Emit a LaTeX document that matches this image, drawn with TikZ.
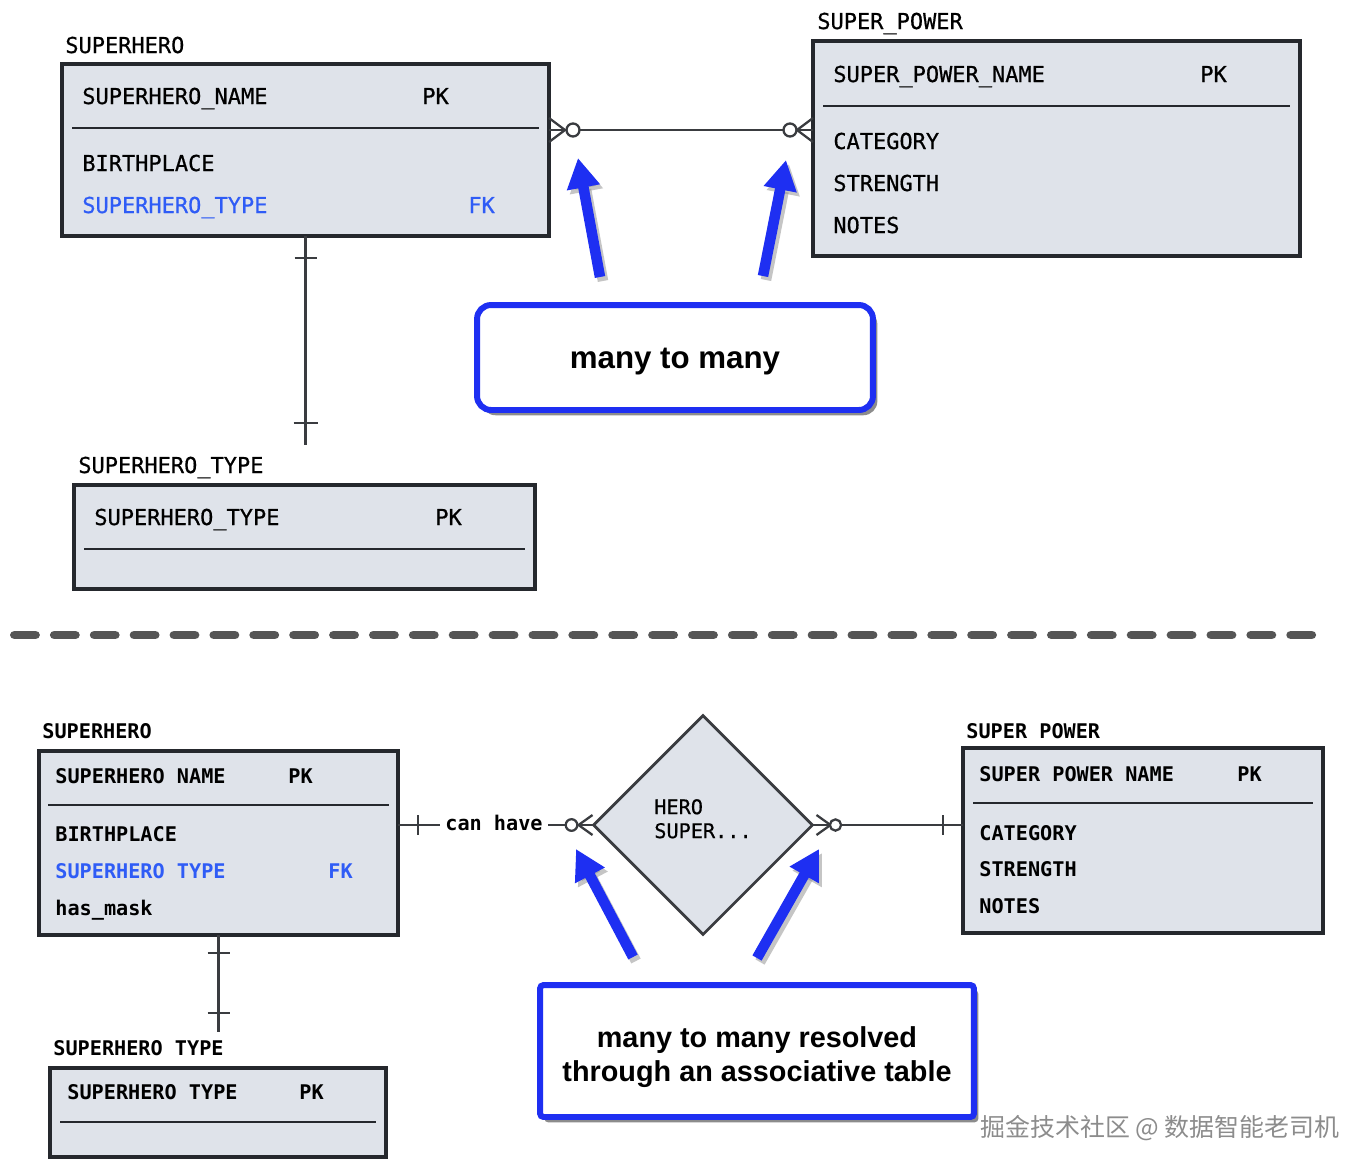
\documentclass[tikz,border=0pt]{standalone}
\usepackage{fontspec}
\setmainfont{Liberation Sans}
\setmonofont{DejaVu Sans Mono}
\newfontfamily\erdmono[FakeBold=0.6]{DejaVu Sans Mono}
\newfontfamily\cjk{Noto Sans CJK SC}
\usepackage{tikz}
\usetikzlibrary{arrows.meta,positioning,fit,calc,shapes.geometric,shadows}
\definecolor{ErdFill}{HTML}{DFE3EA}
\definecolor{ErdLine}{HTML}{25282D}
\definecolor{ErdLink}{HTML}{3A3C40}
\definecolor{ErdKey}{HTML}{2F5CF6}
\definecolor{ErdBlue}{HTML}{1E2FF2}
\definecolor{ErdDash}{HTML}{555555}
\definecolor{ErdMark}{HTML}{8C8C8C}

\begin{document}
\begin{tikzpicture}[x=0.02cm,y=-0.02cm,
  tbl/.style={draw=ErdLine,fill=ErdFill,line width=2.1pt,inner sep=0pt,outer sep=0pt},
  divider/.style={draw=ErdLine,line width=1.6pt},
  fldtop/.style={anchor=base west,inner sep=0pt,font=\fontsize{12.5}{14}\selectfont\erdmono},
  fldbot/.style={anchor=base west,inner sep=0pt,font=\fontsize{11.5}{13}\selectfont\ttfamily\bfseries},
  link/.style={draw=ErdLink,line width=1.3pt},
  assoc/.style={diamond,aspect=1,draw=ErdLink,fill=ErdFill,line width=1.6pt,minimum width=4.38cm,minimum height=4.38cm,inner sep=0pt,outer sep=0pt,align=left,font=\fontsize{11.5}{13.6}\selectfont\erdmono},
  note/.style={draw=ErdBlue,line width=3.4pt,fill=white,drop shadow={shadow xshift=2.5pt,shadow yshift=-3pt,fill=black,opacity=.45}},
  pointer/.style={ErdBlue,line width=6pt,-{Triangle[length=17pt,width=18pt]}},
  pshade/.style={black!45,opacity=.5,line width=6pt,-{Triangle[length=17pt,width=18pt]},transform canvas={shift={(3,4)}}},
]
\useasboundingbox (0,0) rectangle (1370,1171);

% top: superhero
\node[fldtop] (heroLbl) at (65,53) {SUPERHERO};
\node[tbl,fit={(62,64) (549,236)}] (hero) {};
\draw[divider] (72,128) -- (539,128);
\node[fldtop] (heroPk) at (82,104) {SUPERHERO\_NAME};
\node[fldtop] (heroPkTag) at (422,104) {PK};
\node[fldtop] (heroBirth) at (82,171) {BIRTHPLACE};
\node[fldtop,text=ErdKey] (heroFk) at (82,213) {SUPERHERO\_TYPE};
\node[fldtop,text=ErdKey] (heroFkTag) at (468,213) {FK};

% top: super power
\node[fldtop] (powLbl) at (817,29) {SUPER\_POWER};
\node[tbl,fit={(813,41) (1300,256)}] (pow) {};
\draw[divider] (823,106) -- (1290,106);
\node[fldtop] (powPk) at (833,82) {SUPER\_POWER\_NAME};
\node[fldtop] (powPkTag) at (1200,82) {PK};
\foreach \i/\y/\txt in {1/149/CATEGORY,2/191/STRENGTH,3/233/NOTES}
  \node[fldtop] (powF\i) at (833,\y) {\txt};

% top: superhero type
\node[fldtop] (typeLbl) at (78,473) {SUPERHERO\_TYPE};
\node[tbl,fit={(74,485) (535,589)}] (type) {};
\draw[divider] (84,549) -- (525,549);
\node[fldtop] (typePk) at (94,525) {SUPERHERO\_TYPE};
\node[fldtop] (typePkTag) at (435,525) {PK};

% top relations
\coordinate (mm) at (681,130);
\coordinate (typeTop) at (305.5,445);
\draw[link] (hero.east |- mm) -- (pow.west |- mm);
\draw[link] (hero.east |- mm) ++(0,-12) -- ++(16,12) -- ++(-16,12);
\draw[link,fill=white] (hero.east |- mm) ++(24,0) circle (3.7pt);
\draw[link] (pow.west |- mm) ++(0,-12) -- ++(-16,12) -- ++(16,12);
\draw[link,fill=white] (pow.west |- mm) ++(-23,0) circle (3.7pt);
\draw[link] (hero.south) -- (typeTop);
\draw[link] (hero.south) ++(-11,22) -- ++(22,0);
\draw[link] (typeTop) ++(-12,-22) -- ++(24,0);

\node[note,rounded corners=8pt,minimum width=7.92cm,minimum height=2.1cm,text height=1.4em,text depth=0.2em,font=\fontsize{17.8}{20}\selectfont\bfseries] (mtm) at (675,357.5) {many to many};

% separator
\draw[ErdDash,line width=5.1pt,line cap=round,dash pattern=on 11.9pt off 10.8pt] (14.5,635) -- (1316,635);

% bottom: superhero
\node[fldbot] (heroBLbl) at (42,738) {SUPERHERO};
\node[tbl,fit={(39,751) (398,935)}] (heroB) {};
\draw[divider] (48,805) -- (389,805);
\node[fldbot] (heroBPk) at (55,783) {SUPERHERO NAME};
\node[fldbot] (heroBPkTag) at (288,783) {PK};
\node[fldbot] (heroBBirth) at (55,841) {BIRTHPLACE};
\node[fldbot,text=ErdKey] (heroBFk) at (55,878) {SUPERHERO TYPE};
\node[fldbot,text=ErdKey] (heroBFkTag) at (328,878) {FK};
\node[fldbot] (heroBMask) at (55,915) {has\_mask};

% bottom: superhero type
\node[fldbot] (typeBLbl) at (53,1055) {SUPERHERO TYPE};
\node[tbl,fit={(50,1068) (386,1157)}] (typeB) {};
\draw[divider] (60,1122) -- (376,1122);
\node[fldbot] (typeBPk) at (67,1099) {SUPERHERO TYPE};
\node[fldbot] (typeBPkTag) at (299,1099) {PK};

% bottom: super power
\node[fldbot] (powBLbl) at (966,738) {SUPER POWER};
\node[tbl,fit={(963,748) (1323,933)}] (powB) {};
\draw[divider] (973,803) -- (1313,803);
\node[fldbot] (powBPk) at (979,781) {SUPER POWER NAME};
\node[fldbot] (powBPkTag) at (1237,781) {PK};
\foreach \i/\y/\txt in {1/840/CATEGORY,2/876/STRENGTH,3/913/NOTES}
  \node[fldbot] (powBF\i) at (979,\y) {\txt};

% associative table
\node[assoc] (heroPow) at (703,825) {HERO\\SUPER...\\[-0.55em]};
\node[font=\fontsize{11.5}{13}\selectfont\ttfamily\bfseries,inner sep=3pt] (canHave) at (494,823) {can have};

% bottom relations
\draw[link] (heroB.east |- heroPow.west) -- (canHave.west |- heroPow.west);
\draw[link] (canHave.east |- heroPow.west) -- (heroPow.west);
\draw[link] (heroB.east |- heroPow.west) ++(20,-10) -- ++(0,20);
\draw[link] (heroPow.west) ++(-1,-10) -- ++(-14,10) -- ++(14,10);
\draw[link,fill=white] (heroPow.west) ++(-22,0) circle (3.3pt);
\draw[link] (heroPow.east) -- (powB.west |- heroPow.east);
\draw[link] (heroPow.east) ++(4,-10) -- ++(14,10) -- ++(-14,10);
\draw[link,fill=white] (heroPow.east) ++(23,0) circle (3.2pt);
\draw[link] (powB.west |- heroPow.east) ++(-20,-10) -- ++(0,20);
\coordinate (typeBTop) at (218.5,1032);
\draw[link] (heroB.south) -- (typeBTop);
\draw[link] (heroB.south) ++(-11,18) -- ++(22,0);
\draw[link] (typeBTop) ++(-11,-19) -- ++(22,0);

\node[note,rounded corners=2pt,minimum width=8.68cm,minimum height=2.64cm,align=center,font=\fontsize{16.4}{19.3}\selectfont\bfseries] (mtmr) at (757,1051) {many to many resolved\\through an associative table\\[-22.7pt]};

% pointers
\coordinate (tipA) at (578,158);  \coordinate (tailA) at (600,277);
\coordinate (tipB) at (786,160);  \coordinate (tailB) at (763,276);
\coordinate (tipC) at (576,849);  \coordinate (tailC) at (633,957);
\coordinate (tipD) at (819,849);  \coordinate (tailD) at (757,958);
\foreach \s/\t in {tailA/tipA,tailB/tipB,tailC/tipC,tailD/tipD} {
  \draw[pshade] (\s) -- (\t);
  \draw[pointer] (\s) -- (\t);
}

\node[font=\cjk\fontsize{14.2}{16}\selectfont,text=ErdMark,anchor=west,inner sep=0pt] (mark) at (980,1128) {掘金技术社区 @ 数据智能老司机};
\end{tikzpicture}
\end{document}
